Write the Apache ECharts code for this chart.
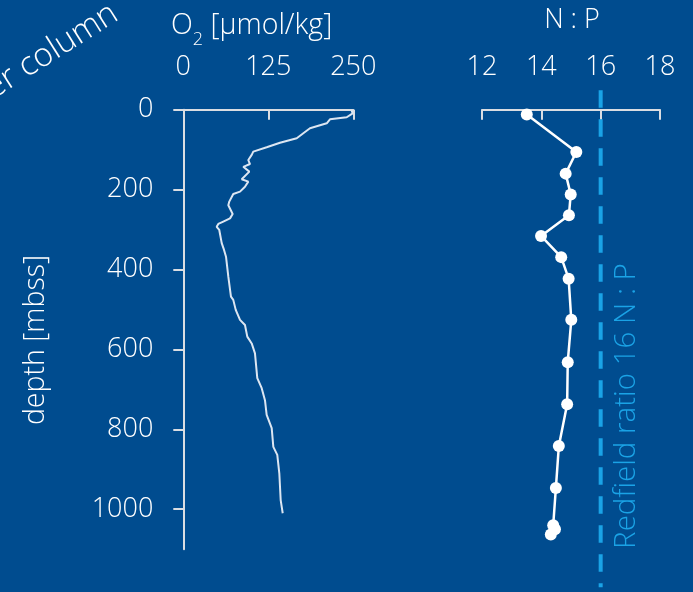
<!DOCTYPE html>
<html>
<head>
<meta charset="utf-8">
<script src="https://cdn.jsdelivr.net/npm/echarts@6/dist/echarts.min.js"></script>
<style>
html,body{margin:0;padding:0;background:#004C8F;}
#chart{width:693px;height:592px;}
</style>
</head>
<body>
<div id="chart"></div>
<script>
// ---- data ----
const depthTicks = [0, 200, 400, 600, 800, 1000];
const o2Ticks = [0, 125, 250];
const npTicks = [12, 14, 16, 18];

const o2Depths = [2.5, 9, 19, 24, 34, 46.5, 59, 71.6, 82.6, 94, 105, 113, 126, 136, 143, 155, 174, 180, 193, 205, 211, 230, 239, 261, 272, 280, 286, 293, 301, 334, 351, 368, 418, 468, 476, 501, 526, 539, 568, 585, 610, 672, 697, 727, 764, 797, 844, 864, 910, 977, 1010];
const o2Values = [247.6, 249.1, 240.3, 215.7, 210.9, 186.3, 176.5, 166.8, 142.2, 122.6, 102.9, 100.6, 95.6, 98.1, 88.2, 97.1, 85.9, 95.6, 90.7, 83.4, 73.5, 67.6, 66.2, 72.6, 68.7, 58.8, 51.5, 49.1, 52.9, 56.5, 59.9, 62.8, 66.2, 70.1, 73.5, 77.1, 83.4, 90.7, 94.1, 100.6, 105.4, 108.8, 115.3, 120.1, 122.6, 130, 132.4, 138.2, 141.2, 143.2, 146.2];

const npDepths = [12, 106, 160, 212, 264, 316, 369, 423, 526, 632, 737, 842, 947, 1040, 1050, 1063];
const npValues = [13.51, 15.18, 14.82, 14.99, 14.93, 13.99, 14.67, 14.92, 15.01, 14.89, 14.87, 14.59, 14.49, 14.40, 14.46, 14.32];

const redfieldValue = 16;
const redfieldDepths = [-48.5, 1195];

// ---- styles ----
const FONT = '"Open Sans", "Noto Sans", sans-serif';
const AXIS_COLOR = '#DADDE2';
const TEXT_COLOR = '#FFFFFF';
const REDFIELD_COLOR = '#1AA3E6';

const chart = echarts.init(document.getElementById('chart'), null, {renderer: 'canvas'});

const labelStyle = {color: TEXT_COLOR, fontSize: 27, fontFamily: FONT, fontWeight: 300, formatter: v => String(v)};

const option = {
  backgroundColor: '#004C8F',
  animation: false,
  grid: [
    {left: 183.3, top: 109.7, width: 170, height: 439.5, outerBoundsMode: 'none', containLabel: false},
    {left: 482, top: 109.7, width: 178, height: 439.5, outerBoundsMode: 'none', containLabel: false}
  ],
  xAxis: [
    {
      type: 'value', gridIndex: 0, position: 'top', min: 0, max: 250, interval: 125,
      axisLine: {show: true, onZero: false, lineStyle: {color: AXIS_COLOR, width: 2}},
      axisTick: {show: true, inside: true, length: 10, customValues: o2Ticks, lineStyle: {color: AXIS_COLOR, width: 2}},
      axisLabel: Object.assign({margin: 29, customValues: o2Ticks}, labelStyle),
      splitLine: {show: false}
    },
    {
      type: 'value', gridIndex: 1, position: 'top', min: 12, max: 18, interval: 2,
      axisLine: {show: true, onZero: false, lineStyle: {color: AXIS_COLOR, width: 2}},
      axisTick: {show: true, inside: true, length: 10, customValues: npTicks, lineStyle: {color: AXIS_COLOR, width: 2}},
      axisLabel: Object.assign({margin: 29, customValues: npTicks}, labelStyle),
      splitLine: {show: false}
    }
  ],
  yAxis: [
    {
      type: 'value', gridIndex: 0, inverse: true, min: 0, max: 1100, interval: 200,
      axisLine: {show: true, onZero: false, lineStyle: {color: AXIS_COLOR, width: 2}},
      axisTick: {show: true, inside: false, length: 10, customValues: depthTicks, lineStyle: {color: AXIS_COLOR, width: 2}},
      axisLabel: Object.assign({margin: 30, customValues: depthTicks}, labelStyle),
      splitLine: {show: false}
    },
    {
      type: 'value', gridIndex: 1, inverse: true, min: 0, max: 1100, interval: 200, show: false,
      splitLine: {show: false}
    }
  ],
  series: [
    {
      type: 'line', xAxisIndex: 0, yAxisIndex: 0, showSymbol: false, symbol: 'none',
      lineStyle: {color: '#DCE6F2', width: 2},
      data: o2Values.map((v, i) => [v, o2Depths[i]]),
      z: 3
    },
    {
      type: 'line', xAxisIndex: 1, yAxisIndex: 1, clip: false, symbol: 'none',
      lineStyle: {color: REDFIELD_COLOR, width: 4, type: [17.5, 11.5]},
      data: redfieldDepths.map(d => [redfieldValue, d]),
      z: 2
    },
    {
      type: 'line', xAxisIndex: 1, yAxisIndex: 1, symbol: 'circle', symbolSize: 12,
      itemStyle: {color: '#FFFFFF'},
      lineStyle: {color: '#FFFFFF', width: 2.5},
      data: npValues.map((v, i) => [v, npDepths[i]]),
      z: 4
    }
  ],
  graphic: [
    {
      type: 'text', x: 115, y: 11, rotation: 32.3 * Math.PI / 180,
      style: {text: 'water column', fill: TEXT_COLOR, fontSize: 33, fontFamily: FONT, fontWeight: 300, align: 'right', verticalAlign: 'middle'}
    },
    {
      type: 'text', x: 36, y: 340, rotation: Math.PI / 2,
      style: {text: 'depth [mbss]', fill: TEXT_COLOR, fontSize: 28.5, fontFamily: FONT, fontWeight: 300, align: 'center', verticalAlign: 'middle'}
    },
    {
      type: 'text', x: 171, y: 26,
      style: {
        text: '{a|O}{s|2}{a| [µmol/kg]}', align: 'left', verticalAlign: 'middle',
        rich: {
          a: {fill: TEXT_COLOR, fontSize: 28.5, fontFamily: FONT, fontWeight: 300, lineHeight: 30, verticalAlign: 'middle'},
          s: {fill: TEXT_COLOR, fontSize: 18, fontFamily: FONT, fontWeight: 300, lineHeight: 18, verticalAlign: 'top', padding: [20, 0, 0, 0]}
        }
      }
    },
    {
      type: 'text', x: 572, y: 20.5,
      style: {text: 'N : P', fill: TEXT_COLOR, fontSize: 27, fontFamily: FONT, fontWeight: 300, align: 'center', verticalAlign: 'middle'}
    },
    {
      type: 'text', x: 627, y: 406, rotation: Math.PI / 2,
      style: {text: 'Redfield ratio 16 N : P', fill: REDFIELD_COLOR, fontSize: 29.5, fontFamily: FONT, fontWeight: 300, align: 'center', verticalAlign: 'middle'}
    }
  ]
};
chart.setOption(option);
</script>
</body>
</html>
